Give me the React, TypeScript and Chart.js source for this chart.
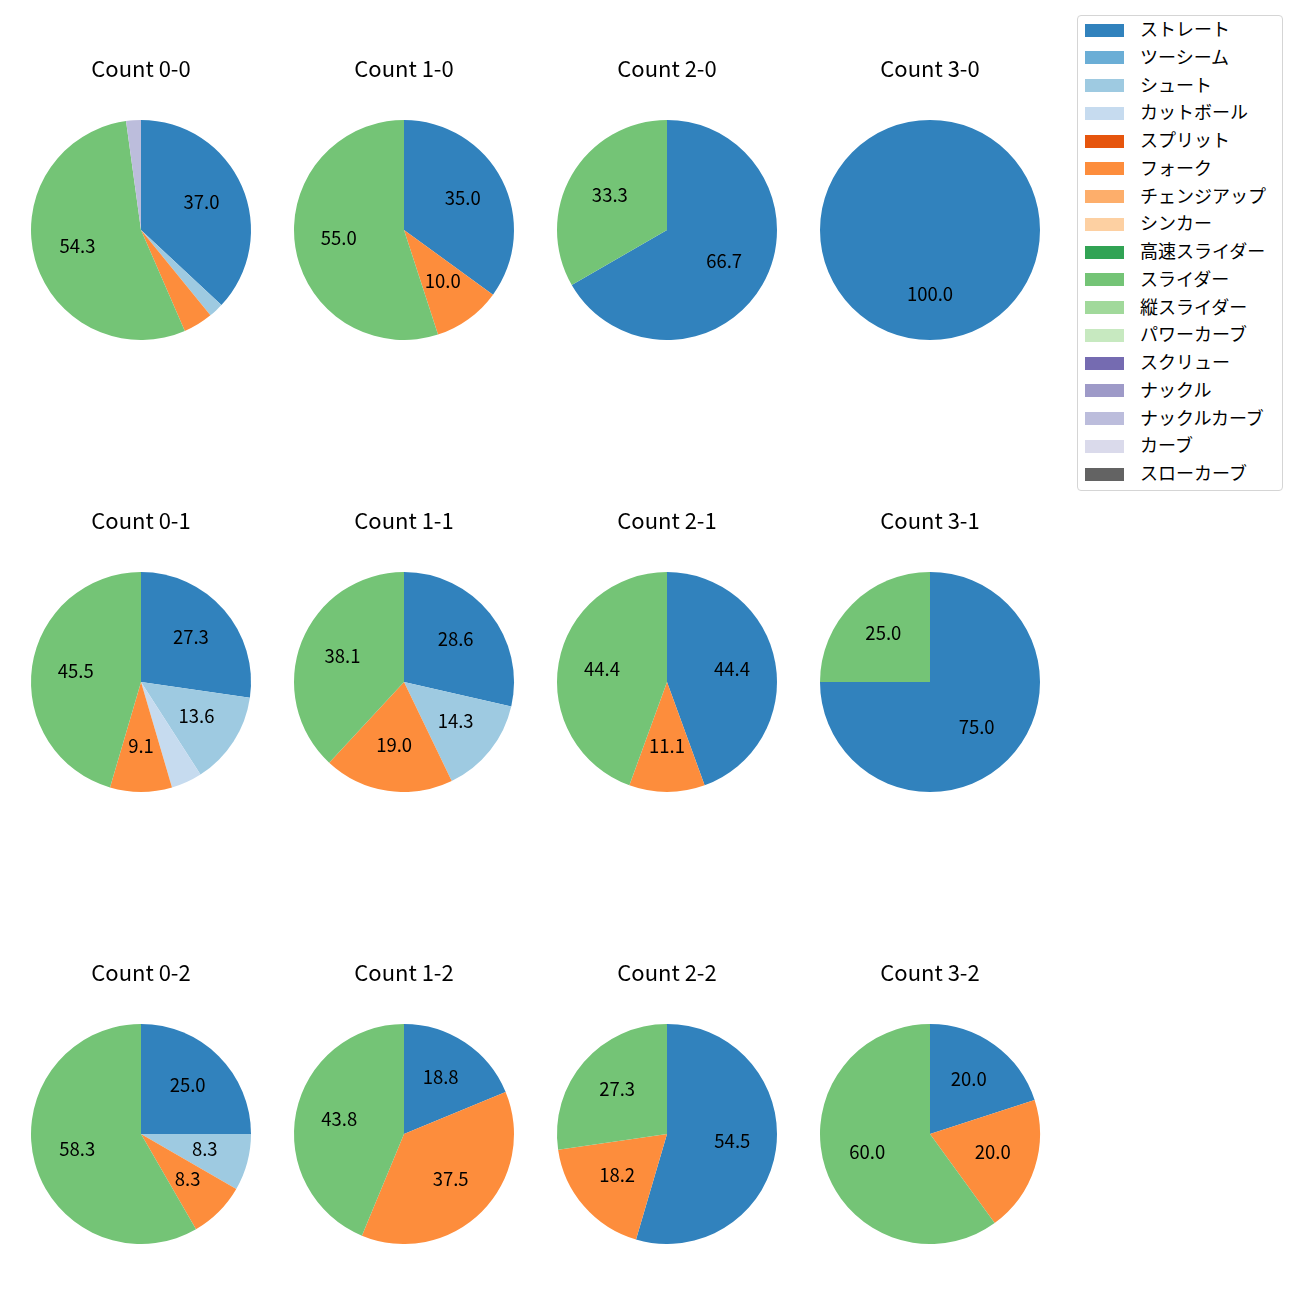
import React, { useEffect, useRef } from "react";
import { Chart, registerables } from "chart.js";
Chart.register(...registerables);

const pitchTypes = [
  "ストレート", "ツーシーム", "シュート", "カットボール", "スプリット", "フォーク",
  "チェンジアップ", "シンカー", "高速スライダー", "スライダー", "縦スライダー",
  "パワーカーブ", "スクリュー", "ナックル", "ナックルカーブ", "カーブ", "スローカーブ",
];
const pitchColors = [
  "#3182bd", "#6baed6", "#9ecae1", "#c6dbef", "#e6550d", "#fd8d3c", "#fdae6b",
  "#fdd0a2", "#31a354", "#74c476", "#a1d99b", "#c7e9c0", "#756bb1", "#9e9ac8",
  "#bcbddc", "#dadaeb", "#636363",
];

const countTitles = [
  "Count 0-0", "Count 1-0", "Count 2-0", "Count 3-0",
  "Count 0-1", "Count 1-1", "Count 2-1", "Count 3-1",
  "Count 0-2", "Count 1-2", "Count 2-2", "Count 3-2",
];

// pitch counts per pitch type (same order as pitchTypes), read from the percentages
const count00 = [17, 0, 1, 0, 0, 2, 0, 0, 0, 25, 0, 0, 0, 0, 1, 0, 0];
const count10 = [7, 0, 0, 0, 0, 2, 0, 0, 0, 11, 0, 0, 0, 0, 0, 0, 0];
const count20 = [2, 0, 0, 0, 0, 0, 0, 0, 0, 1, 0, 0, 0, 0, 0, 0, 0];
const count30 = [1, 0, 0, 0, 0, 0, 0, 0, 0, 0, 0, 0, 0, 0, 0, 0, 0];
const count01 = [6, 0, 3, 1, 0, 2, 0, 0, 0, 10, 0, 0, 0, 0, 0, 0, 0];
const count11 = [6, 0, 3, 0, 0, 4, 0, 0, 0, 8, 0, 0, 0, 0, 0, 0, 0];
const count21 = [4, 0, 0, 0, 0, 1, 0, 0, 0, 4, 0, 0, 0, 0, 0, 0, 0];
const count31 = [3, 0, 0, 0, 0, 0, 0, 0, 0, 1, 0, 0, 0, 0, 0, 0, 0];
const count02 = [3, 0, 1, 0, 0, 1, 0, 0, 0, 7, 0, 0, 0, 0, 0, 0, 0];
const count12 = [3, 0, 0, 0, 0, 6, 0, 0, 0, 7, 0, 0, 0, 0, 0, 0, 0];
const count22 = [6, 0, 0, 0, 0, 2, 0, 0, 0, 3, 0, 0, 0, 0, 0, 0, 0];
const count32 = [1, 0, 0, 0, 0, 1, 0, 0, 0, 3, 0, 0, 0, 0, 0, 0, 0];

const countValues = [
  count00, count10, count20, count30,
  count01, count11, count21, count31,
  count02, count12, count22, count32,
];

const FONT = "'Noto Sans CJK JP', 'Noto Sans', sans-serif";
const colCenters = [141, 404, 667, 930];
const rowCenters = [230, 682, 1134];

const pctLabelPlugin = {
  id: "pctLabels",
  afterDatasetsDraw(chart: any) {
    const ctx = chart.ctx;
    const meta = chart.getDatasetMeta(0);
    const data = chart.data.datasets[0].data as number[];
    const total = data.reduce((a, b) => a + b, 0);
    ctx.save();
    ctx.font = `18.5px ${FONT}`;
    ctx.fillStyle = "#000";
    ctx.textAlign = "center";
    ctx.textBaseline = "middle";
    meta.data.forEach((arc: any, i: number) => {
      const v = data[i];
      if (!v || (v / total) * 100 < 5) return;
      const p = arc.getProps(["x", "y", "startAngle", "endAngle", "outerRadius"], true);
      const mid = (p.startAngle + p.endAngle) / 2;
      const r = p.outerRadius * 0.6;
      ctx.fillText(((v / total) * 100).toFixed(1), p.x + Math.cos(mid) * r, p.y + Math.sin(mid) * r - 2);
    });
    ctx.restore();
  },
};

function Pie({ title, values, cx, cy }: { title: string; values: number[]; cx: number; cy: number }) {
  const ref = useRef<HTMLCanvasElement>(null);
  useEffect(() => {
    if (!ref.current) return;
    const chart = new Chart(ref.current, {
      type: "pie",
      data: {
        labels: pitchTypes,
        datasets: [{ data: values, backgroundColor: pitchColors, borderWidth: 0 }],
      },
      options: {
        responsive: false,
        maintainAspectRatio: false,
        animation: false,
        devicePixelRatio: 1,
        layout: { padding: { left: 20, right: 20, top: 0, bottom: 0 } },
        plugins: {
          legend: { display: false },
          tooltip: { enabled: false },
          title: {
            display: true,
            text: title,
            color: "#000",
            font: { family: FONT, size: 22, weight: "normal", lineHeight: 1.2 },
            padding: { top: 15.8, bottom: 37.8 },
          },
        },
      },
      plugins: [pctLabelPlugin],
    });
    return () => chart.destroy();
  }, [title, values]);
  return (
    <canvas
      ref={ref}
      width={260}
      height={300}
      style={{ position: "absolute", left: cx - 130, top: cy - 190, width: 260, height: 300 }}
    />
  );
}

export default function App() {
  return (
    <div style={{ position: "absolute", left: 0, top: 0, width: 1300, height: 1300, background: "#fff" }}>
      {countTitles.map((t, i) => (
        <Pie key={t} title={t} values={countValues[i]} cx={colCenters[i % 4]} cy={rowCenters[Math.floor(i / 4)]} />
      ))}
      <div
        style={{
          position: "absolute",
          left: 1077,
          top: 15,
          width: 206,
          height: 476,
          boxSizing: "border-box",
          border: "1px solid #d5d5d5",
          borderRadius: 4,
          background: "#fff",
          fontFamily: FONT,
          fontSize: 18,
          color: "#000",
        }}
      >
        {pitchTypes.map((p, i) => (
          <div key={p} style={{ position: "absolute", left: 0, top: i * 27.75, height: 28, width: 204 }}>
            <div
              style={{
                position: "absolute",
                left: 7,
                top: 7.5,
                width: 39,
                height: 13,
                background: pitchColors[i],
              }}
            />
            <div style={{ position: "absolute", left: 62, top: -2, lineHeight: "28px", whiteSpace: "nowrap" }}>{p}</div>
          </div>
        ))}
      </div>
    </div>
  );
}
